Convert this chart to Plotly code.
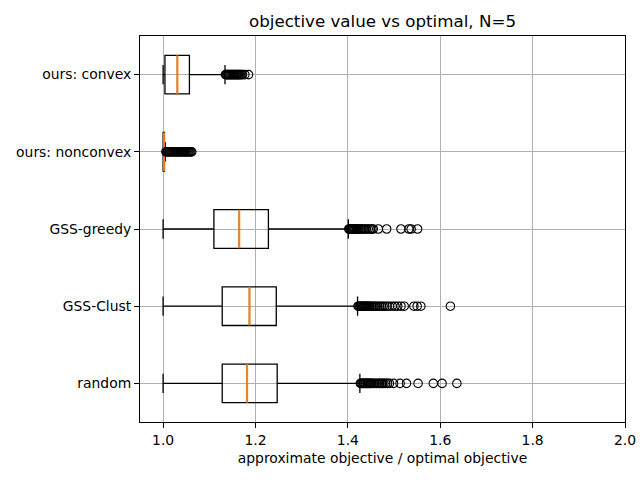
import plotly.graph_objects as go

# ---- data ----
labels = ["random", "GSS-Clust", "GSS-greedy", "ours: nonconvex", "ours: convex"]
positions = [1, 2, 3, 4, 5]

lower_whisker = [1.000, 1.000, 1.000, 1.000, 1.000]
q1_vals       = [1.128, 1.128, 1.110, 1.000, 1.004]
median_vals   = [1.182, 1.187, 1.165, 1.002, 1.031]
q3_vals       = [1.247, 1.245, 1.228, 1.003, 1.057]
upper_whisker = [1.426, 1.421, 1.401, 1.005, 1.134]

outliers_random = [1.427, 1.429, 1.431, 1.433, 1.435, 1.437, 1.439, 1.441, 1.443, 1.445,
                   1.447, 1.449, 1.452, 1.455, 1.458, 1.462, 1.466, 1.469, 1.472, 1.475,
                   1.478, 1.482, 1.486, 1.490, 1.499, 1.513, 1.527, 1.552, 1.585, 1.604, 1.636]
outliers_clust = [1.422, 1.424, 1.426, 1.428, 1.430, 1.432, 1.434, 1.436, 1.438, 1.440,
                  1.442, 1.444, 1.446, 1.448, 1.451, 1.454, 1.457, 1.460, 1.464, 1.468,
                  1.472, 1.476, 1.480, 1.485, 1.490, 1.496, 1.502, 1.508, 1.515, 1.522,
                  1.543, 1.550, 1.558, 1.622]
outliers_greedy = [1.402, 1.404, 1.406, 1.408, 1.410, 1.412, 1.414, 1.416, 1.418, 1.420,
                   1.422, 1.424, 1.427, 1.430, 1.433, 1.436, 1.440, 1.444, 1.448, 1.452,
                   1.455, 1.466, 1.484, 1.515, 1.532, 1.537, 1.551]
outliers_nonconvex = [1.006, 1.008, 1.010, 1.012, 1.014, 1.016, 1.018, 1.020, 1.022, 1.024,
                      1.026, 1.028, 1.030, 1.032, 1.034, 1.036, 1.038, 1.040, 1.042, 1.044,
                      1.046, 1.048, 1.050, 1.052, 1.054, 1.056, 1.058, 1.060, 1.062]
outliers_convex = [1.135, 1.137, 1.139, 1.141, 1.143, 1.145, 1.147, 1.149, 1.151, 1.153,
                   1.155, 1.157, 1.159, 1.161, 1.163, 1.165, 1.167, 1.170, 1.172, 1.177, 1.185]
outliers = [outliers_random, outliers_clust, outliers_greedy, outliers_nonconvex, outliers_convex]

title = "objective value vs optimal, N=5"
xlabel = "approximate objective / optimal objective"
xticks = [1.0, 1.2, 1.4, 1.6, 1.8, 2.0]

# ---- figure ----
BOX_W = 0.5
fig = go.Figure()

for i, p in enumerate(positions):
    fig.add_trace(go.Box(
        y=[p], q1=[q1_vals[i]], median=[median_vals[i]], q3=[q3_vals[i]],
        lowerfence=[lower_whisker[i]], upperfence=[upper_whisker[i]],
        orientation="h", width=BOX_W, whiskerwidth=0.5,
        line=dict(color="black", width=1.3), fillcolor="rgba(0,0,0,0)",
        boxpoints=False, showlegend=False, hoverinfo="skip",
    ))

# orange median lines
mx, my = [], []
for i, p in enumerate(positions):
    mx += [median_vals[i], median_vals[i], None]
    my += [p - BOX_W / 2, p + BOX_W / 2, None]
fig.add_trace(go.Scatter(x=mx, y=my, mode="lines",
                         line=dict(color="#ff7f0e", width=1.9),
                         showlegend=False, hoverinfo="skip"))

# outliers
for i, p in enumerate(positions):
    fig.add_trace(go.Scatter(
        x=outliers[i], y=[p] * len(outliers[i]), mode="markers",
        marker=dict(symbol="circle-open", size=8.5, color="black", line=dict(width=1.1)),
        showlegend=False, hoverinfo="skip", cliponaxis=False))

axis_common = dict(
    showline=True, linecolor="black", linewidth=1, mirror=True,
    ticks="outside", ticklen=5, tickwidth=1, tickcolor="black",
    showgrid=True, gridcolor="#b0b0b0", gridwidth=1, zeroline=False,
    automargin=False,
    tickfont=dict(family="DejaVu Sans", size=13.9, color="black"),
)

fig.update_layout(
    width=640, height=480,
    margin=dict(l=140, r=15, t=36, b=58, autoexpand=False),
    paper_bgcolor="white", plot_bgcolor="white",
    title=dict(text=title, x=0.5, xanchor="center", y=1 - 21 / 480, yanchor="middle",
               yref="container", xref="paper", automargin=False,
               font=dict(family="DejaVu Sans", size=16.7, color="black")),
    xaxis=dict(range=[0.95, 2.0], tickvals=xticks, ticktext=[f"{v:.1f}" for v in xticks],
               title=dict(text=xlabel, font=dict(family="DejaVu Sans", size=13.9, color="black"),
                          standoff=6),
               **axis_common),
    yaxis=dict(range=[0.5, 5.5], tickvals=positions, ticktext=labels, **axis_common),
)

fig.write_html("out.html", config={"displayModeBar": False},
               post_script="document.body.style.margin='0';")
